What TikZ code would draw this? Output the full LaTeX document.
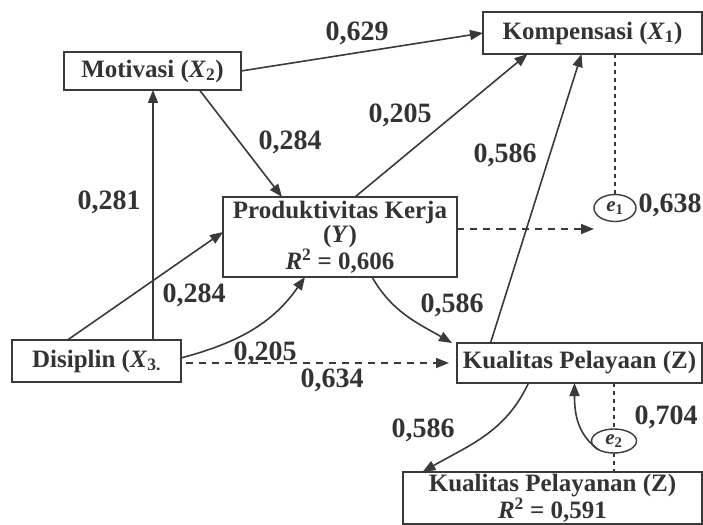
\documentclass[tikz,border=0pt]{standalone}
\usepackage{fontspec}
\setmainfont{Liberation Serif}
\usetikzlibrary{arrows.meta,shapes.geometric}
\definecolor{linie}{HTML}{3A3A3A}
\definecolor{schrift}{HTML}{333333}
\tikzset{
	kasten/.style={draw=linie, line width=1.6pt, align=center, inner sep=0pt, outer sep=0pt, text=schrift, font=\fontsize{25}{24}\selectfont\bfseries},
	fehler/.style={ellipse, draw=linie, line width=1.4pt, inner sep=0pt, outer sep=0pt, text=schrift, font=\fontsize{21}{21}\selectfont\bfseries},
	wert/.style={text=schrift, inner sep=0pt, font=\fontsize{28}{28}\selectfont\bfseries},
	pfeil/.style={draw=linie, line width=1.6pt, -{Triangle[length=13pt,width=10pt]}},
	strich/.style={pfeil, dash pattern=on 7pt off 6pt},
	punkt/.style={draw=linie, line width=1.6pt, dash pattern=on 4pt off 4pt},
}
\newcommand{\vr}[2]{\textit{#1}\textsubscript{#2}}

\begin{document}
\begin{tikzpicture}[x=1pt,y=1pt]
	\useasboundingbox (0,0) rectangle (703,-524);

	% zeichne Kaesten
	\node[kasten, minimum width=177pt, minimum height=38pt] (motivasi) at (152.5,-71) {Motivasi (\vr{X}{2})};
	\node[kasten, minimum width=219pt, minimum height=42pt] (kompensasi) at (592.5,-33) {Kompensasi (\vr{X}{1})};
	\node[kasten, minimum width=234pt, minimum height=80pt] (produktivitas) at (340,-237) {Produktivitas Kerja\\(\textit{Y})\\\textit{R}\textsuperscript{2} = 0,606};
	\node[kasten, minimum width=169pt, minimum height=42pt] (disiplin) at (96.5,-361) {Disiplin (\vr{X}{3.}};
	\node[kasten, minimum width=245pt, minimum height=40pt] (pelayaan) at (579.5,-363) {Kualitas Pelayaan (Z)};
	\node[kasten, minimum width=299pt, minimum height=52pt, font=\fontsize{25}{22}\selectfont\bfseries] (pelayanan) at (552.5,-498) {Kualitas Pelayanan (Z)\\\textit{R}\textsuperscript{2} = 0,591};

	% zeichne Fehlerterme
	\node[fehler, minimum width=42pt, minimum height=27pt] (e1) at (615,-208) {\vr{e}{1}};
	\node[fehler, minimum width=45pt, minimum height=24pt] (e2) at (614,-441) {\vr{e}{2}};

	% zeichne Pfade
	\draw[pfeil] (motivasi.east) -- (kompensasi.west);
	\draw[pfeil] ([xshift=47pt]motivasi.south) -- ([xshift=-58pt]produktivitas.north);
	\draw[pfeil] ([xshift=0.5pt]motivasi.south |- disiplin.north) -- ([xshift=0.5pt]motivasi.south);
	\draw[pfeil] ([xshift=-29pt]disiplin.north) -- ([yshift=5pt]produktivitas.west);
	\draw[pfeil] ([yshift=3pt]disiplin.east) to[out=15,in=-125] ([xshift=-35pt]produktivitas.south);
	\draw[strich, shorten <=5pt, shorten >=8pt] (disiplin.east |- pelayaan.west) -- (pelayaan.west);
	\draw[pfeil] ([xshift=15pt]produktivitas.north) -- ([xshift=-65pt]kompensasi.south);
	\draw[pfeil] ([xshift=-89pt]pelayaan.north) -- ([xshift=-11pt]kompensasi.south);
	\draw[pfeil] ([xshift=32pt]produktivitas.south) to[out=-60,in=150] ([xshift=-5pt]pelayaan.north west);
	\draw[pfeil] ([xshift=-51pt]pelayaan.south) to[out=-115,in=30] ([xshift=-130pt]pelayanan.north);
	\draw[pfeil] (e2.210) to[out=145,in=-90] ([xshift=-5pt]pelayaan.south);

	% zeichne Fehlerpfade
	\draw[strich] ([yshift=8pt]produktivitas.east) -- ([yshift=8pt]produktivitas.east -| e1.west);
	\draw[punkt] (kompensasi.south -| e1.north) -- (e1.north);
	\draw[punkt] (pelayaan.south -| e2.north) -- (e2.north);
	\draw[punkt] (e2.south) -- (e2.south |- pelayanan.north);

	% zeichne Werte
	\node[wert] (w629) at (357,-33) {0,629};
	\node[wert] (w284a) at (290,-142) {0,284};
	\node[wert] (w281) at (109,-202) {0,281};
	\node[wert] (w284b) at (194,-295) {0,284};
	\node[wert] (w205a) at (265,-353) {0,205};
	\node[wert] (w634) at (332,-380) {0,634};
	\node[wert] (w205b) at (400,-115) {0,205};
	\node[wert] (w586a) at (505,-155) {0,586};
	\node[wert] (w638) at (670,-205) {0,638};
	\node[wert] (w586b) at (452,-305) {0,586};
	\node[wert] (w586c) at (423,-430) {0,586};
	\node[wert] (w704) at (666,-417) {0,704};
\end{tikzpicture}
\end{document}
